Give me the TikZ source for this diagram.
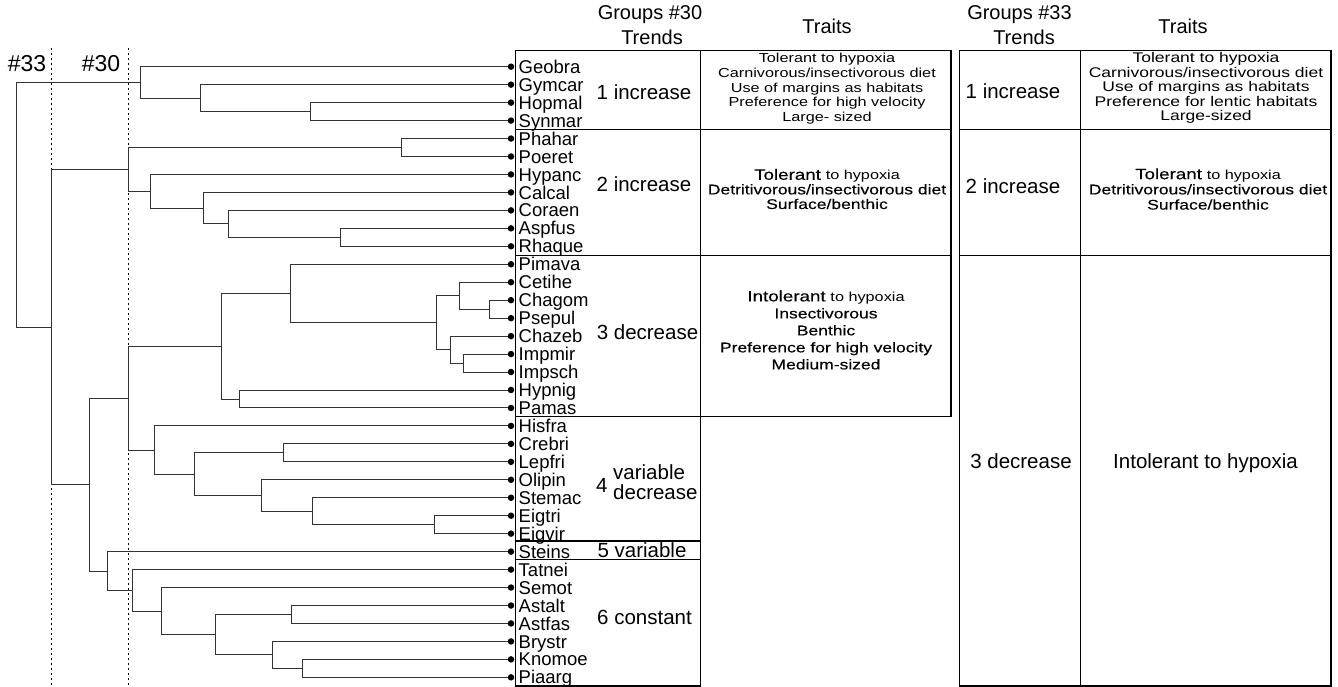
\documentclass[tikz,border=0pt]{standalone}
\usepackage{fontspec}
\setmainfont{Liberation Sans}
\newfontfamily\widefont[FakeStretch=1.25]{Liberation Sans}
\newfontfamily\widebold[FakeStretch=1.25, FakeBold=0.3]{Liberation Sans}
\usetikzlibrary{positioning, calc}

\begin{document}
\begin{tikzpicture}[
  x=1pt, y=-1pt,
  branch/.style={draw=black!80, line width=0.9pt},
  leafdot/.style={circle, fill=black, inner sep=0pt, minimum size=6.5pt},
  leaflab/.style={anchor=base west, inner sep=0pt, font=\fontsize{18.5}{18}\selectfont},
  cutline/.style={line width=0.9pt, dash pattern=on 2pt off 3pt},
  cutlab/.style={anchor=base, inner sep=0pt, font=\fontsize{23}{23}\selectfont},
  head/.style={anchor=base, inner sep=0pt, font=\fontsize{20}{20}\selectfont},
  trend/.style={anchor=base, inner sep=0pt, font=\fontsize{20.5}{20}\selectfont},
  trait/.style={align=center, inner sep=0pt, font=\widefont\fontsize{14}{14.6}\selectfont},
  grid/.style={draw, line width=1.1pt},
]
\useasboundingbox (0,0) rectangle (1338,687);

% Leaves
\foreach \name [count=\i from 0] in {Geobra,Gymcar,Hopmal,Synmar,Phahar,Poeret,Hypanc,Calcal,Coraen,Aspfus,Rhaque,Pimava,Cetihe,Chagom,Psepul,Chazeb,Impmir,Impsch,Hypnig,Pamas,Hisfra,Crebri,Lepfri,Olipin,Stemac,Eigtri,Eigvir,Steins,Tatnei,Semot,Astalt,Astfas,Brystr,Knomoe,Piaarg}{
  \node[leafdot] (\name) at (511,{66.7+17.96*\i}) {};
  \node[leaflab] (\name-lab) at (518.5,{73.3+17.96*\i}) {\name};
}

% Internal nodes
\coordinate (c1) at (310.3,111.6);
\coordinate (c2) at (200,98.1);
\coordinate (c3) at (140.3,82.4);
\coordinate (c4) at (401.3,147.5);
\coordinate (c5) at (340.7,237.3);
\coordinate (c6) at (228.7,223.8);
\coordinate (c7) at (203.3,208.1);
\coordinate (c8) at (150.3,191.3);
\coordinate (c9) at (128.7,169.4);
\coordinate (c10) at (489.7,309.2);
\coordinate (c11) at (459.3,295.7);
\coordinate (c12) at (463.7,363.0);
\coordinate (c13) at (450.3,349.6);
\coordinate (c14) at (436.3,322.6);
\coordinate (c15) at (290,293.4);
\coordinate (c16) at (239.7,399.0);
\coordinate (c17) at (221.7,346.2);
\coordinate (c18) at (283.3,452.8);
\coordinate (c19) at (434.7,524.7);
\coordinate (c20) at (312.3,511.2);
\coordinate (c21) at (261,495.5);
\coordinate (c22) at (194.7,474.2);
\coordinate (c23) at (154.7,450.0);
\coordinate (c24) at (128.3,398.1);
\coordinate (c25) at (291.7,614.5);
\coordinate (c26) at (302,668.4);
\coordinate (c27) at (272.3,654.9);
\coordinate (c28) at (215.3,634.7);
\coordinate (c29) at (161.7,611.1);
\coordinate (c30) at (132.7,590.3);
\coordinate (c31) at (107,571.0);
\coordinate (c32) at (89,484.5);
\coordinate (c33) at (51,327.0);
\coordinate (root) at (16,204.7);

% Cut levels
\coordinate (cut33top) at (51,48);
\coordinate (cut33bot) at (51,687);
\coordinate (cut30top) at (128.7,48);
\coordinate (cut30bot) at (128.7,687);
\draw[cutline] (cut33top) -- (cut33bot);
\draw[cutline] (cut30top) -- (cut30bot);
\node[cutlab] (lab33) at (27,71.7) {\#33};
\node[cutlab] (lab30) at (101,71.7) {\#30};

% Branches
\foreach \p/\c in {c1/Hopmal, c1/Synmar, c2/Gymcar, c2/c1, c3/Geobra, c3/c2,
  c4/Phahar, c4/Poeret, c5/Aspfus, c5/Rhaque, c6/Coraen, c6/c5, c7/Calcal, c7/c6,
  c8/Hypanc, c8/c7, c9/c4, c9/c8,
  c10/Chagom, c10/Psepul, c11/Cetihe, c11/c10, c12/Impmir, c12/Impsch, c13/Chazeb, c13/c12,
  c14/c11, c14/c13, c15/Pimava, c15/c14, c16/Hypnig, c16/Pamas, c17/c15, c17/c16,
  c18/Crebri, c18/Lepfri, c19/Eigtri, c19/Eigvir, c20/Stemac, c20/c19, c21/Olipin, c21/c20,
  c22/c18, c22/c21, c23/Hisfra, c23/c22, c24/c17, c24/c23,
  c25/Astalt, c25/Astfas, c26/Knomoe, c26/Piaarg, c27/Brystr, c27/c26, c28/c25, c28/c27,
  c29/Semot, c29/c28, c30/Tatnei, c30/c29, c31/Steins, c31/c30, c32/c24, c32/c31,
  c33/c9, c33/c32, root/c3, root/c33}{
  \draw[branch] (\p) |- (\c);
}

% Table groups #30
\draw[grid] (515.7,50.7) rectangle (700.7,686);
\foreach \y in {129.7,255.5,416.5,541,559.3}{
  \draw[grid] (515.7,\y) -- (700.7,\y);
}
\draw[grid] (700.7,50.7) rectangle (951,416.5);
\foreach \y in {129.7,255.5}{
  \draw[grid] (700.7,\y) -- (951,\y);
}

% Table groups #33
\draw[grid] (959.5,50.7) rectangle (1331,686);
\draw[grid] (1080.7,50.7) -- (1080.7,686);
\foreach \y in {129.7,255.3}{
  \draw[grid] (959.5,\y) -- (1331,\y);
}

% Headers
\node[head] (g30) at (650,20) {Groups \#30};
\node[head] (g30t) at (652,45) {Trends};
\node[head] (tr30h) at (827,34) {Traits};
\node[head] (g33) at (1019.5,20) {Groups \#33};
\node[head] (g33t) at (1024,45) {Trends};
\node[head] (tr33h) at (1183,34) {Traits};

% Trends #30
\node[trend] (t30a) at (644,99.2) {1 increase};
\node[trend] (t30b) at (644,191.2) {2 increase};
\node[trend] (t30c) at (647.5,339.2) {3 decrease};
\node[trend] (t30d) at (601.7,492) {4};
\node[trend, anchor=west, align=left] (t30dd) at (613,482) {variable\\decrease};
\node[trend] (t30e) at (642,557) {5 variable};
\node[trend] (t30f) at (644.5,624) {6 constant};

% Traits #30
\node[trait, font=\widefont\fontsize{13}{14.8}\selectfont] (r30a) at (827,88.8)
  {Tolerant to hypoxia\\Carnivorous/insectivorous diet\\Use of margins as habitats\\Preference for high velocity\\Large- sized};
\node[trait, font=\widebold\fontsize{14}{14.6}\selectfont] (r30b) at (827,189)
  {{\fontsize{15}{14.6}\selectfont Tolerant} {\widefont\fontsize{13}{14.6}\selectfont to hypoxia}\\Detritivorous/insectivorous diet\\Surface/benthic};
\node[trait, font=\widebold\fontsize{14}{17}\selectfont] (r30c) at (826,330)
  {{\fontsize{15}{17}\selectfont Intolerant} {\widefont\fontsize{13}{17}\selectfont to hypoxia}\\Insectivorous\\Benthic\\Preference for high velocity\\Medium-sized};

% Trends #33
\node[trend] (t33a) at (1013,98.2) {1 increase};
\node[trend] (t33b) at (1013,193.2) {2 increase};
\node[trend] (t33c) at (1021,468.2) {3 decrease};

% Traits #33
\node[trait] (r33a) at (1206,88)
  {Tolerant to hypoxia\\Carnivorous/insectivorous diet\\Use of margins as habitats\\Preference for lentic habitats\\Large-sized};
\node[trait, font=\widebold\fontsize{14}{15.2}\selectfont] (r33b) at (1208,189)
  {{\fontsize{15}{15.2}\selectfont Tolerant} {\widefont\fontsize{13}{15.2}\selectfont to hypoxia}\\Detritivorous/insectivorous diet\\Surface/benthic};
\node[trend] (r33c) at (1205.5,468.4) {Intolerant to hypoxia};
\end{tikzpicture}
\end{document}
